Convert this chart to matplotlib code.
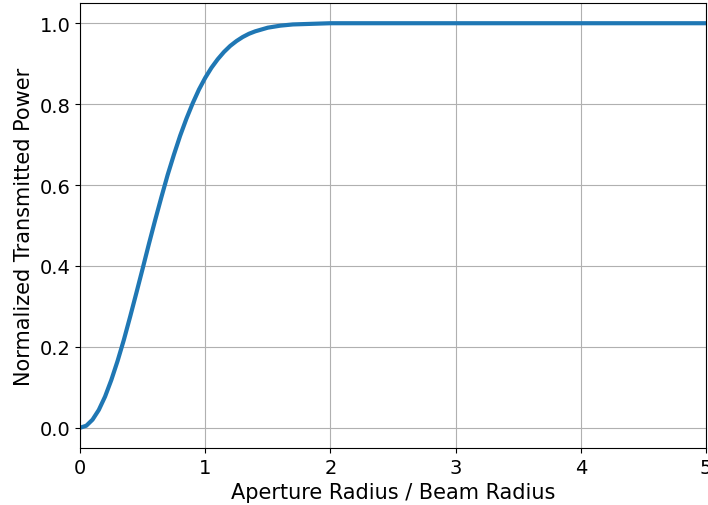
import matplotlib
matplotlib.use("Agg")
from matplotlib import pyplot as plt

# aperture radius / beam radius
ratio = [0.0, 0.05, 0.1, 0.15, 0.2, 0.25, 0.3, 0.35, 0.4, 0.45, 0.5, 0.55, 0.6, 0.65,
         0.7, 0.75, 0.8, 0.85, 0.9, 0.95, 1.0, 1.05, 1.1, 1.15, 1.2, 1.25, 1.3, 1.35,
         1.4, 1.5, 1.6, 1.7, 1.8, 1.9, 2.0, 2.5, 3.0, 4.0, 5.0]
power = [0.0, 0.005, 0.020, 0.044, 0.077, 0.118, 0.165, 0.217, 0.274, 0.333, 0.393,
         0.454, 0.513, 0.570, 0.625, 0.675, 0.722, 0.764, 0.802, 0.836, 0.865, 0.890,
         0.911, 0.929, 0.944, 0.956, 0.966, 0.974, 0.980, 0.989, 0.994, 0.997, 0.998,
         0.999, 1.0, 1.0, 1.0, 1.0, 1.0]

fig = plt.figure(figsize=(7.08, 5.06), dpi=100)
ax = fig.add_axes([80 / 708, 57 / 506, 626 / 708, 445 / 506])
ax.plot(ratio, power, color='#1f77b4', linewidth=3)
ax.set_xlim(0, 5)
ax.set_ylim(-0.05, 1.05)
ax.grid(True)
ax.tick_params(labelsize=14)
ax.set_xlabel('Aperture Radius / Beam Radius', fontsize=15)
ax.set_ylabel('Normalized Transmitted Power', fontsize=15)
fig.savefig('out.png', dpi=100)
